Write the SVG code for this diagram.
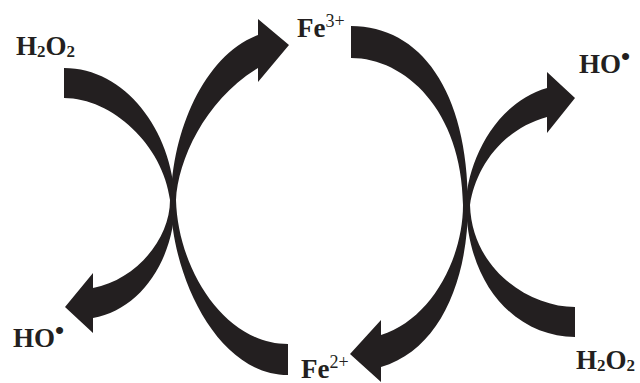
<svg xmlns="http://www.w3.org/2000/svg" width="640" height="383" viewBox="0 0 640 383">
  <style>
    .band { fill: #231f20; }
    .lbl { font-family: "Liberation Serif", "Times New Roman", serif; font-weight: bold; font-size: 27px; fill: #231f20; }
    .sub { font-size: 17px; }
    .sup { font-size: 18px; font-weight: normal; }
    .rad { font-size: 26px; }
  </style>
  <rect width="640" height="383" fill="#ffffff"/>

  <g id="connectors">
    <!-- left pair: H2O2 -> HO• and Fe2+ -> Fe3+ touching at (173,200) -->
    <path id="left-h2o2-to-ho" class="band" d="M64,68 C125,68 172,130 175,200 C175,260 140,310 93,318 L93,333 L65,307 L93,273 L93,288 C135,280 170,240 170,200 C163,145 112,98 64,98 Z"/>
    <path id="left-fe2-to-fe3" class="band" d="M288,375 C215,375 170,270 171,200 C172,130 205,55 258,35 L258,19 L289,45 L258,82 L258,68 C205,100 178,160 176,200 C178,270 225,344 288,344 Z"/>
    <!-- right pair: Fe3+ -> Fe2+ and H2O2 -> HO• touching at (466,205) -->
    <path id="right-fe3-to-fe2" class="band" d="M351,26 C420,26 468,90 468,205 C468,280 440,350 381,367 L381,382 L350,354 L381,320 L381,335 C430,320 463,260 463,205 C462,110 405,58 351,58 Z"/>
    <path id="right-h2o2-to-ho" class="band" d="M575,337 C520,337 468,290 466,205 C466,170 490,105 547,88 L547,72 L575,98 L547,133 L547,117 C500,130 475,170 470,205 C472,270 530,307 575,307 Z"/>
  </g>

  <g id="h2o2-top">
    <text class="lbl" x="16" y="55">H<tspan class="sub" dy="2">2</tspan><tspan dy="-2">O</tspan><tspan class="sub" dy="2">2</tspan></text>
  </g>
  <g id="fe3">
    <text class="lbl" x="297" y="37">Fe<tspan class="sup" dy="-10">3+</tspan></text>
  </g>
  <g id="ho-top">
    <text class="lbl" x="579" y="73">HO<tspan class="rad" dy="-8">•</tspan></text>
  </g>
  <g id="ho-bottom">
    <text class="lbl" x="13" y="347">HO<tspan class="rad" dy="-8">•</tspan></text>
  </g>
  <g id="fe2">
    <text class="lbl" x="301" y="378">Fe<tspan class="sup" dy="-10">2+</tspan></text>
  </g>
  <g id="h2o2-bottom">
    <text class="lbl" x="576" y="369">H<tspan class="sub" dy="2">2</tspan><tspan dy="-2">O</tspan><tspan class="sub" dy="2">2</tspan></text>
  </g>
</svg>
